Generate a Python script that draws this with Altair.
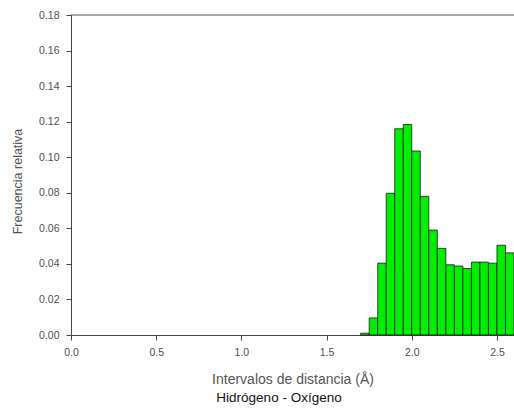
import altair as alt
import pandas as pd

# Histogram data (bin start in Å, relative frequency)
bin_start = [1.70, 1.75, 1.80, 1.85, 1.90, 1.95, 2.00, 2.05, 2.10,
             2.15, 2.20, 2.25, 2.30, 2.35, 2.40, 2.45, 2.50, 2.55]
freq = [0.001, 0.0096, 0.0404, 0.0797, 0.1160, 0.1184, 0.1035, 0.0780, 0.0590,
        0.0487, 0.0395, 0.0388, 0.0374, 0.0410, 0.0410, 0.0404, 0.0505, 0.0462]
bin_width = 0.05

x_ticks = [0.0, 0.5, 1.0, 1.5, 2.0, 2.5]
y_ticks = [0.00, 0.02, 0.04, 0.06, 0.08, 0.10, 0.12, 0.14, 0.16, 0.18]

x_title = "Intervalos de distancia (Å)"
y_title = "Frecuencia relativa"
subtitle = "Hidrógeno - Oxígeno"

df = pd.DataFrame({
    "start": bin_start,
    "end": [s + bin_width for s in bin_start],
    "freq": freq,
})

W, H = 443, 320
FONT = "Liberation Sans"

bars = alt.Chart(df).mark_bar(
    color="#00ee00", stroke="#1a1a1a", strokeWidth=0.8
).encode(
    x=alt.X("start:Q", scale=alt.Scale(domain=[0, 2.6], nice=False, zero=False),
            axis=alt.Axis(values=x_ticks, format=".1f", title=x_title)),
    x2="end:Q",
    y=alt.Y("freq:Q", scale=alt.Scale(domain=[0, 0.18], nice=False),
            axis=alt.Axis(values=y_ticks, format=".2f", title=y_title, titleY=166)),
    y2=alt.datum(0),
)

top_line = alt.Chart(pd.DataFrame({"a": [0]})).mark_rule(
    color="#555555", strokeWidth=1
).encode(x=alt.value(0), x2=alt.value(W), y=alt.value(0))

sub = alt.Chart(pd.DataFrame({"t": [subtitle]})).mark_text(
    font=FONT, fontSize=13.5, color="#111111", align="center", baseline="middle"
).encode(text="t:N", x=alt.value(208), y=alt.value(383))

chart = alt.layer(bars, top_line, sub).properties(
    width=W, height=H,
    padding={"left": 71, "top": 15, "right": 0, "bottom": 77},
    autosize=alt.AutoSizeParams(type="none"),
).configure_view(strokeWidth=0).configure_axis(
    grid=False,
    labelFont=FONT, titleFont=FONT,
    labelFontSize=10.5, labelColor="#505050",
    domainColor="#444444", tickColor="#444444", tickSize=5,
    titleFontWeight="normal", titleColor="#555555",
    labelFlush=False, labelOverlap=False,
).configure_axisY(
    labelPadding=7, titleFontSize=12.5, titlePadding=14,
).configure_axisX(
    labelPadding=7, titleFontSize=14, titlePadding=15,
)

chart.save("out.html", embed_options={"renderer": "svg", "actions": False})
